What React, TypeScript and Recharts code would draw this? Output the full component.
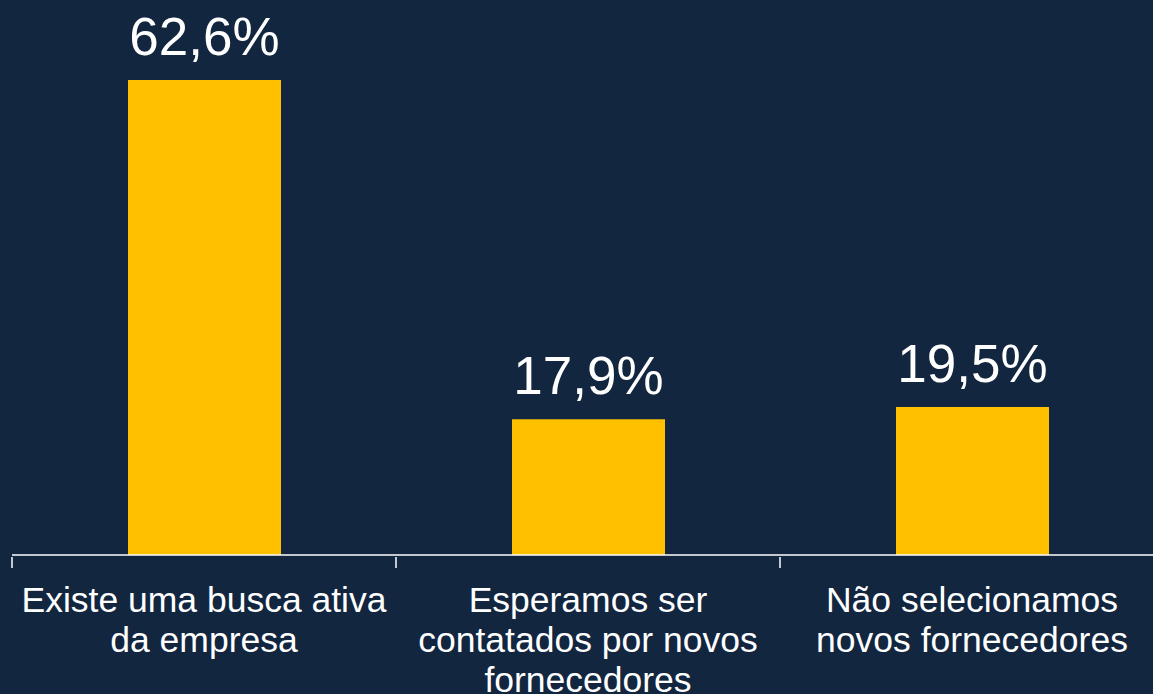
import React from 'react';
import { BarChart, Bar, XAxis, YAxis, LabelList } from 'recharts';

const categories = [
  'Existe uma busca ativa\nda empresa',
  'Esperamos ser\ncontatados por novos\nfornecedores',
  'Não selecionamos\nnovos fornecedores',
];
const shares = [62.6, 17.9, 19.5];

const data = categories.map((name, i) => ({ name, value: shares[i] }));

const BG = '#12263F';
const GOLD = '#FFC000';
const FONT = '"Liberation Sans", Arial, sans-serif';

const CHART_W = 1164;
const LEFT = 12;
const BAND = (CHART_W - LEFT) / categories.length;

// tick marks sit on the category boundaries, so each tick draws its left edge
const CategoryTick = ({ x, y, payload }: any) => {
  const lines = String(payload.value).split('\n');
  const edge = x - BAND / 2;
  return (
    <g>
      <line x1={edge} x2={edge} y1={y - 8} y2={y + 3} stroke="#ffffff" strokeWidth={1.5} />
      <text x={x} y={y + 47} textAnchor="middle" fill="#ffffff" fontSize={35.5} fontFamily={FONT}>
        {lines.map((ln, i) => (
          <tspan key={i} x={x} dy={i === 0 ? 0 : 40}>{ln}</tspan>
        ))}
      </text>
    </g>
  );
};

const fmt = (v: any) => `${Number(v).toFixed(1).replace('.', ',')}%`;

export default function App() {
  return (
    <div style={{ position: 'fixed', left: 0, top: 0, width: 1153, height: 694, overflow: 'hidden', background: BG }}>
      <BarChart
        width={CHART_W}
        height={694}
        data={data}
        margin={{ top: 1, right: 0, left: LEFT, bottom: 0 }}
      >
        <XAxis
          dataKey="name"
          axisLine={{ stroke: '#ffffff', strokeWidth: 1.5 }}
          tickLine={false}
          tickSize={8}
          interval={0}
          tick={<CategoryTick />}
          height={139}
        />
        <YAxis hide domain={[0, 73]} />
        <Bar dataKey="value" fill={GOLD} barSize={153} isAnimationActive={false}>
          <LabelList
            dataKey="value"
            position="top"
            offset={25}
            formatter={fmt}
            fill="#ffffff"
            fontSize={53}
            fontFamily={FONT}
          />
        </Bar>
      </BarChart>
    </div>
  );
}
